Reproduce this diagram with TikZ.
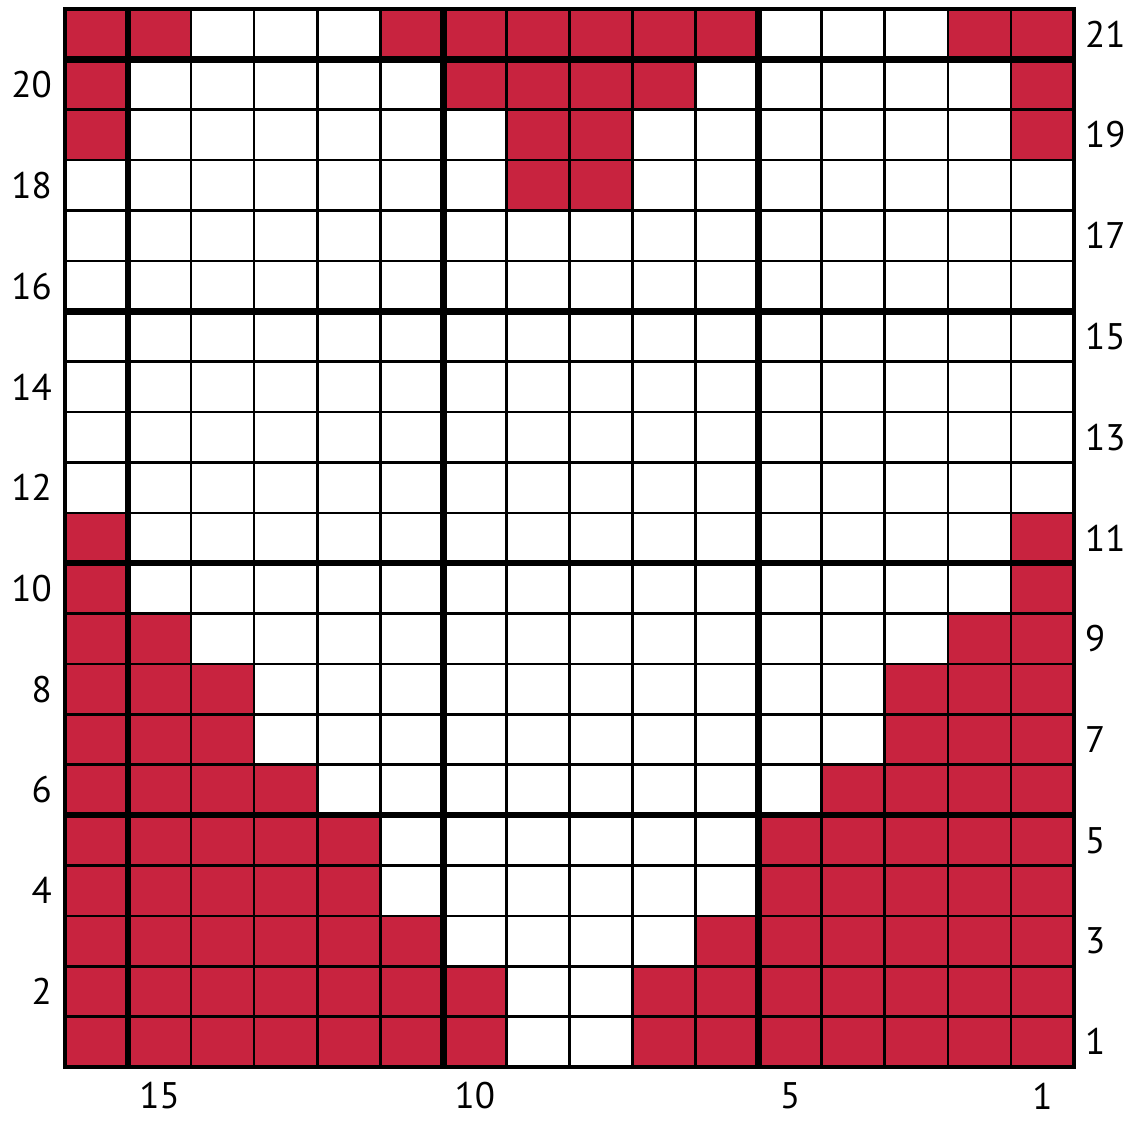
\documentclass[tikz,border=0pt]{standalone}
\usepackage{fontspec}
\setmainfont{PT Sans}
\definecolor{chartred}{HTML}{C8233F}
\begin{document}
\begin{tikzpicture}[x=1pt,y=-1pt,
  thinline/.style={line width=2.6pt,black},
  thickline/.style={line width=6.5pt,black},
  lbl/.style={font=\fontsize{37}{40}\selectfont,inner sep=0pt}]
\useasboundingbox (0,0) rectangle (1134,1120);
\def\xo{65}\def\yo{9}\def\cw{63.06}\def\ch{50.38}
% red cells: row number (1 = bottom) / list of left indices
\foreach \r/\cells in {21/{1,2,6,7,8,9,10,11,15,16},
  20/{1,7,8,9,10,16}, 19/{1,8,9,16}, 18/{8,9},
  11/{1,16}, 10/{1,16}, 9/{1,2,15,16},
  8/{1,2,3,14,15,16}, 7/{1,2,3,14,15,16},
  6/{1,2,3,4,13,14,15,16},
  5/{1,2,3,4,5,12,13,14,15,16}, 4/{1,2,3,4,5,12,13,14,15,16},
  3/{1,2,3,4,5,6,11,12,13,14,15,16},
  2/{1,2,3,4,5,6,7,10,11,12,13,14,15,16},
  1/{1,2,3,4,5,6,7,10,11,12,13,14,15,16}}{
  \foreach \i in \cells {
    \fill[chartred] ({\xo+(\i-1)*\cw},{\yo+(21-\r)*\ch}) rectangle ++(\cw,\ch);
  }
}
% thin grid
\foreach \k in {0,...,16} \draw[thinline] ({\xo+\k*\cw},\yo) -- ++(0,{21*\ch});
\foreach \k in {0,...,21} \draw[thinline] (\xo,{\yo+\k*\ch}) -- ++({16*\cw},0);
% thick lines
\foreach \k in {1,6,11} \draw[thickline] ({\xo+\k*\cw},\yo) -- ++(0,{21*\ch});
\foreach \k in {1,6,11,16} \draw[thickline] (\xo,{\yo+\k*\ch}) -- ++({16*\cw},0);
\draw[line width=4pt,line cap=rect] (\xo,\yo) rectangle ++({16*\cw},{21*\ch});
% row labels
\foreach \r in {2,4,...,20}
  \node[lbl,anchor=east] (L\r) at ({\xo-13},{\yo+(21-\r+0.5)*\ch}) {\r};
\foreach \r in {1,3,...,21}
  \node[lbl,anchor=west] (R\r) at ({\xo+16*\cw+11},{\yo+(21-\r+0.5)*\ch}) {\r};
% column labels
\foreach \c in {15,10,5,1}
  \node[lbl] (C\c) at ({\xo+(16-\c+0.5)*\cw},1096) {\c};
\end{tikzpicture}
\end{document}
